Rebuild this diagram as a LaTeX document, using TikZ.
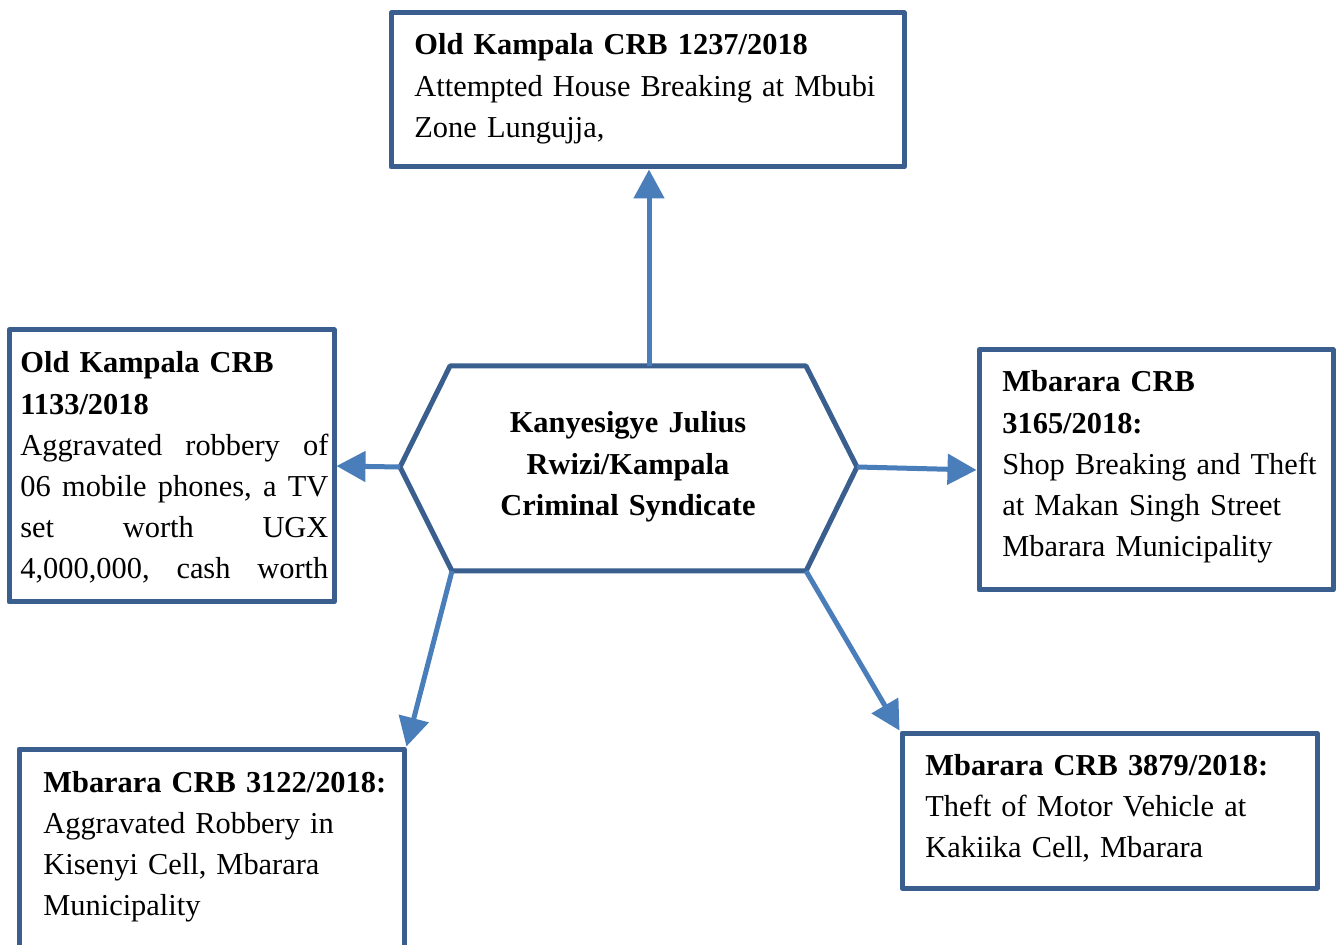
\documentclass[tikz,border=0pt]{standalone}
\usepackage{fontspec}
\setmainfont{Liberation Serif}
\usetikzlibrary{arrows.meta,fit}
\definecolor{boxblue}{RGB}{58,95,143}
\definecolor{arrblue}{RGB}{74,126,187}
\newcommand{\jline}[1]{\leavevmode\hbox to 154pt{#1}}
\begin{document}
\begin{tikzpicture}[x=0.5pt,y=-0.5pt,
  box/.style={draw=boxblue,line width=2.5pt,inner sep=0pt,line join=round},
  txt/.style={inner sep=0pt,anchor=base west,align=left,font=\fontsize{15.2}{20.6}\selectfont},
  conn/.style={draw=arrblue,line width=2.5pt,-{Triangle[length=14.5pt,width=15pt]}}]
\useasboundingbox (0,0) rectangle (1338,945);
\clip (0,0) rectangle (1338,945);
\fill[white] (0,0) rectangle (1338,945);
% boxes
\node[box,fit={(391,13) (904,167)}] (top) {};
\node[box,fit={(9,330) (334,602)}] (left) {};
\node[box,fit={(979,350) (1333,590)}] (right) {};
\node[box,fit={(19,749) (404,960)}] (bl) {};
\node[box,fit={(902,733) (1317,888)}] (br) {};
% hexagon
\coordinate (hL) at (400,467);
\coordinate (hTL) at (450,366);
\coordinate (hT) at (649,366);
\coordinate (hTR) at (806,366);
\coordinate (hR) at (857,467);
\coordinate (hBR) at (806,571);
\coordinate (hBL) at (452,571);
\draw[box] (hL) -- (hTL) -- (hTR) -- (hR) -- (hBR) -- (hBL) -- cycle;
% texts
\node[txt,text width=250pt] (topT) at (414,55) {\textbf{Old Kampala CRB 1237/2018}\\Attempted House Breaking at Mbubi\\Zone Lungujja,};
\node[txt,text width=154pt] (leftT) at (20,373) {\textbf{Old Kampala CRB}\\\textbf{1133/2018}\\\jline{Aggravated\hfill robbery\hfill of}\\\jline{06\hfill mobile\hfill phones,\hfill a\hfill TV}\\\jline{set\hfill worth\hfill UGX}\\\jline{4,000,000,\hfill cash\hfill worth}};
\node[txt,text width=165pt] (rightT) at (1002,392) {\textbf{Mbarara CRB}\\\textbf{3165/2018:}\\Shop Breaking and Theft\\at Makan Singh Street\\Mbarara Municipality};
\node[txt,text width=180pt] (blT) at (43,792) {\textbf{Mbarara CRB 3122/2018:}\\Aggravated Robbery in\\Kisenyi Cell, Mbarara\\Municipality};
\node[txt,text width=190pt] (brT) at (925,775) {\textbf{Mbarara CRB 3879/2018:}\\Theft of Motor Vehicle at\\Kakiika Cell, Mbarara};
\node[txt,anchor=base,align=center,text width=200pt] (hexT) at (628,433) {\textbf{Kanyesigye Julius}\\\textbf{Rwizi/Kampala}\\\textbf{Criminal Syndicate}};
% connectors
\draw[conn] (hT) -- (hT |- top.south);
\draw[conn] (hL) -- (left.east);
\draw[conn] (hR) -- (right.west);
\draw[conn] (hBL) -- (bl.north east);
\draw[conn] (hBR) -- (br.north west);
\end{tikzpicture}
\end{document}
